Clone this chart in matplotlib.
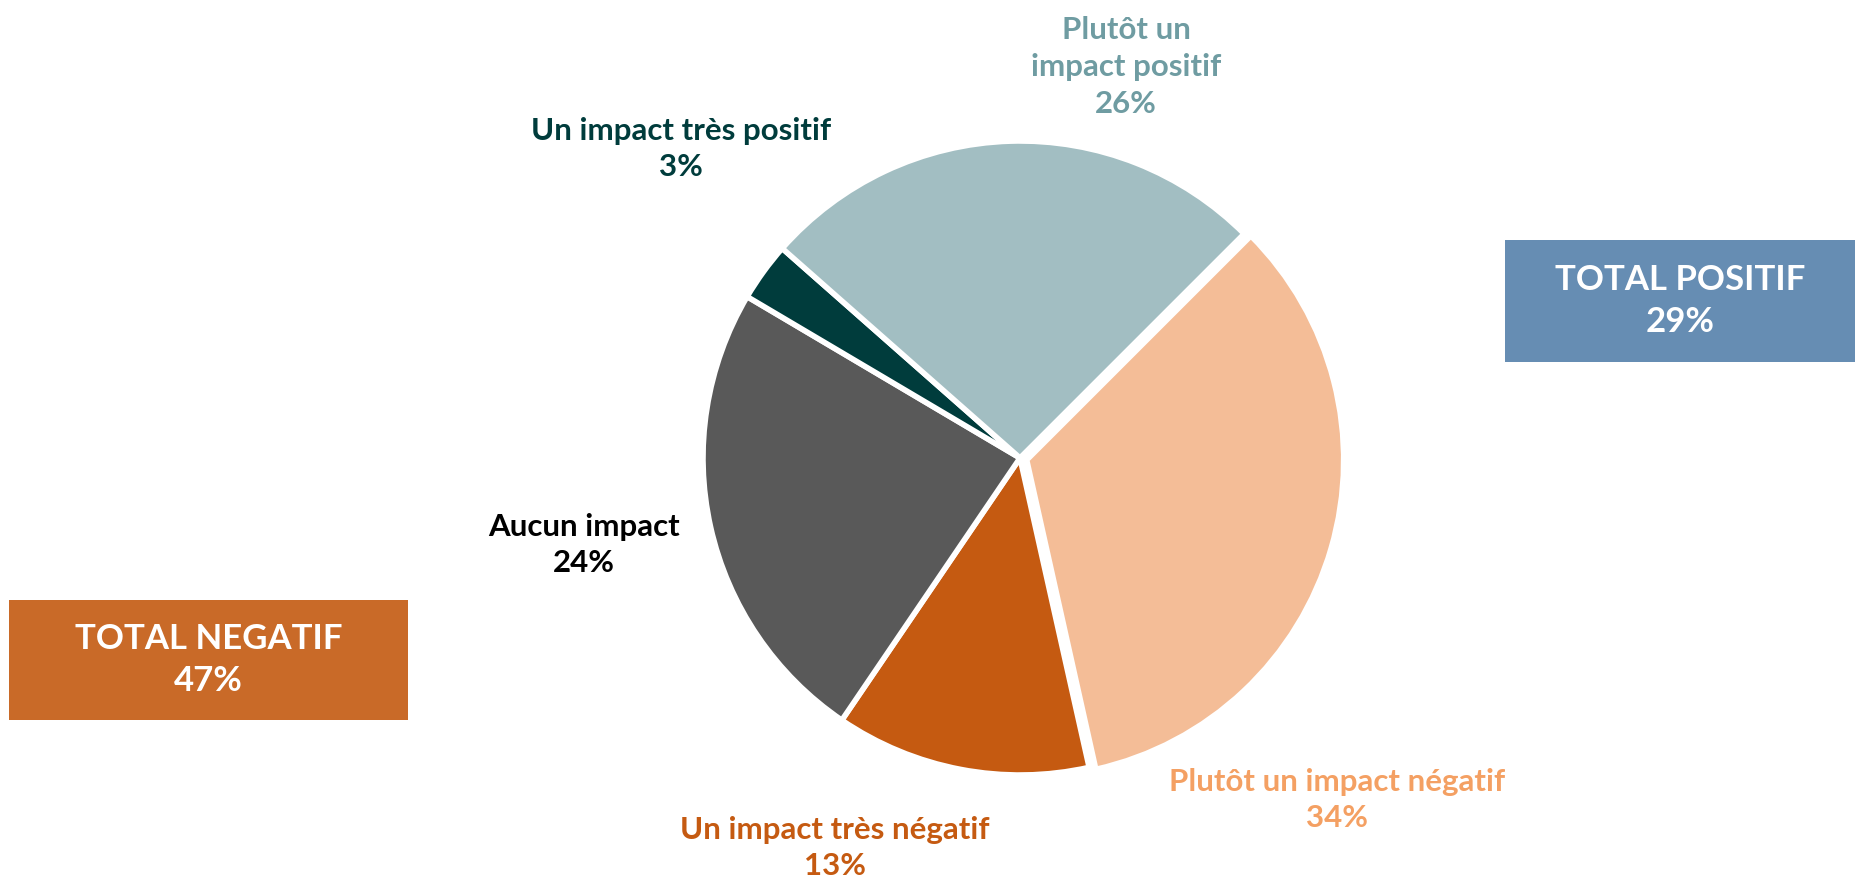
import matplotlib
matplotlib.use("Agg")
import matplotlib.pyplot as plt
from matplotlib.patches import Rectangle

categories = ["Plutôt un impact négatif", "Un impact très négatif", "Aucun impact",
              "Un impact très positif", "Plutôt un impact positif"]
values = [34, 13, 24, 3, 26]
label_texts = ["Plutôt un impact négatif", "Un impact très négatif", "Aucun impact",
               "Un impact très positif", "Plutôt un\nimpact positif"]
totals_labels = ["TOTAL POSITIF", "TOTAL NEGATIF"]
totals_values = [29, 47]

slice_colors = ["#f4bd97", "#c55a11", "#595959", "#003c3c", "#a2bec2"]
text_colors = ["#f4a063", "#c55a11", "#000000", "#003c3c", "#6f9ca2"]
explode = [0.022, 0, 0, 0, 0]

W, H = 1855, 884
plt.rcParams['font.family'] = ['Lato', 'DejaVu Sans']
fig = plt.figure(figsize=(W / 100, H / 100), dpi=100)
fig.patch.set_facecolor("white")

cx, cy, r = 1020, 458, 317
half = 350
ax = fig.add_axes([(cx - half) / W, (H - cy - half) / H, 2 * half / W, 2 * half / H])
ax.pie(values, colors=slice_colors, startangle=45, counterclock=False,
       explode=explode, radius=1,
       wedgeprops=dict(edgecolor="white", linewidth=4))
lim = half / r
ax.set_xlim(-lim, lim)
ax.set_ylim(-lim, lim)
ax.set_aspect("equal")
ax.axis("off")

# label positions in pixel coords (center of text block)
label_pos = [(1337, 800), (835, 848), (584, 545), (681, 149), (1126, 67)]
for txt, v, col, (px, py) in zip(label_texts, values, text_colors, label_pos):
    fig.text(px / W, 1 - py / H, f"{txt}\n{v}%", ha="center", va="center",
             color=col, fontsize=22.5, fontweight="bold", linespacing=1.38)

# total boxes
boxes = [(1505, 240, 350, 122, "#668db3"), (9, 600, 399, 120, "#c96a28")]
for (bx, by, bw, bh, bc), lab, v in zip(boxes, totals_labels, totals_values):
    fig.patches.append(Rectangle((bx / W, 1 - (by + bh) / H), bw / W, bh / H,
                                 transform=fig.transFigure, facecolor=bc,
                                 edgecolor="none", zorder=0))
    fig.text((bx + bw / 2) / W, 1 - (by + bh / 2) / H, f"{lab}\n{v}%",
             ha="center", va="center", color="white", fontsize=25,
             fontweight="bold", linespacing=1.35)

fig.savefig("out.png", dpi=100, facecolor="white")
